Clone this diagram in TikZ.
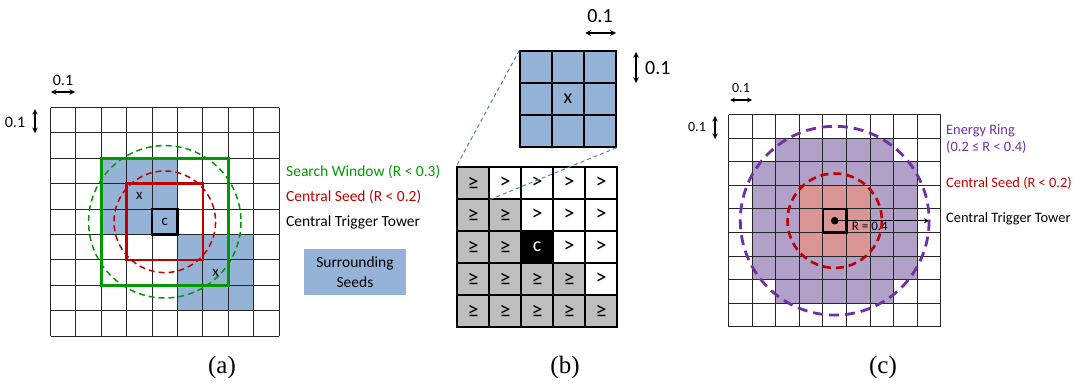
\documentclass[tikz,border=0pt]{standalone}
\usepackage{fontspec}
\setmainfont{Carlito}
\newfontfamily\capfont{Liberation Serif}
\usetikzlibrary{arrows,positioning}

\definecolor{seedblue}{RGB}{149,179,215}
\definecolor{lowgray}{RGB}{191,191,191}
\definecolor{searchgreen}{RGB}{0,153,0}
\definecolor{seedred}{RGB}{192,0,0}
\definecolor{ringpurple}{RGB}{112,48,160}
\definecolor{ringfill}{RGB}{177,160,199}
\definecolor{corefill}{RGB}{218,150,148}
\definecolor{zoomblue}{RGB}{79,129,189}

\begin{document}
\begin{tikzpicture}[
    x=1pt, y=-1pt,
    gridline/.style={line width=1.1pt, black!85},
    tower/.style={rectangle, draw, line width=2.6pt, inner sep=0pt, font=\fontsize{15}{18}\selectfont},
    seedx/.style={inner sep=0pt, font=\fontsize{15}{18}\selectfont},
    bcell/.style={rectangle, draw, line width=1.3pt, minimum size=32pt, inner sep=0pt, font=\fontsize{22}{24}\selectfont},
    lbl/.style={anchor=west, inner sep=0pt, font=\fontsize{15.5}{18}\selectfont},
    lblc/.style={anchor=west, inner sep=0pt, font=\fontsize{14.4}{17}\selectfont},
    dimlbl/.style={inner sep=0pt, font=\fontsize{#1}{18}\selectfont},
    dimarrow/.style={<->, >=stealth, line width=1.4pt},
    zoomline/.style={zoomblue, line width=1pt, dash pattern=on 4pt off 3pt},
    caplbl/.style={inner sep=0pt, font=\capfont\fontsize{25}{28}\selectfont}
]
    \useasboundingbox (0,0) rectangle (1081,383);

    % (a) search window
    \begin{scope}[shift={(50.5pt,-107.5pt)}, x=25.4pt, y=-25.4pt]
        \fill[seedblue] (2,2) rectangle (5,5) (5,5) rectangle (8,8);
        \foreach \i in {0,...,9}
            \draw[gridline] (\i,0) -- (\i,9) (0,\i) -- (9,\i);
        \draw[searchgreen, line width=3.2pt] (2,2) rectangle (7,7);
        \draw[seedred, line width=2.8pt] (3,3) rectangle (6,6);
        \node[tower, minimum size=25.4pt] (ctta) at (4.5,4.5) {c};
        \draw[searchgreen, line width=1.5pt, dash pattern=on 6pt off 4pt] (ctta.center) circle (3);
        \draw[seedred, line width=1.5pt, dash pattern=on 6pt off 4pt] (ctta.center) circle (2);
        \node[seedx] (xa1) at (3.5,3.5) {x};
        \node[seedx] (xa2) at (6.5,6.5) {x};
    \end{scope}

    \coordinate (ah1) at (51,92);
    \coordinate (ah2) at (75,92);
    \draw[dimarrow] (ah1) -- (ah2);
    \node[dimlbl=16] (ahl) at (63,80) {0.1};
    \coordinate (av1) at (35,109);
    \coordinate (av2) at (35,133);
    \draw[dimarrow] (av1) -- (av2);
    \node[dimlbl=16] (avl) at (15,122) {0.1};

    \node[lbl, text=searchgreen] (swlbl) at (286,172) {Search Window (R < 0.3)};
    \node[lbl, text=seedred, below=25pt of swlbl.west, anchor=west] (csalbl) {Central Seed (R < 0.2)};
    \node[lbl, below=25pt of csalbl.west, anchor=west] (ctalbl) {Central Trigger Tower};
    \node[fill=seedblue, minimum width=102pt, minimum height=46pt, align=center,
          font=\fontsize{15.5}{20}\selectfont] (ssbox) at (355,272) {Surrounding\\Seeds};

    \node[caplbl] (capa) at (222,367) {(a)};

    % (b) local maximum
    \begin{scope}[shift={(457pt,-167pt)}, x=32pt, y=-32pt]
        \foreach \r in {0,...,4}
            \foreach \c in {0,...,4} {
                \ifnum\c>\r
                    \node[bcell] (b-\r-\c) at (\c+0.5,\r+0.5) {>};
                \else
                    \node[bcell, fill=lowgray] (b-\r-\c) at (\c+0.5,\r+0.5) {≥};
                \fi
            }
        \node[bcell, fill=black, text=white, font=\fontsize{20}{22}\selectfont] (b-2-2) at (2.5,2.5) {c};
    \end{scope}

    \begin{scope}[shift={(520pt,-51pt)}, x=32pt, y=-32pt]
        \foreach \r in {0,1,2}
            \foreach \c in {0,1,2}
                \node[bcell, fill=seedblue] (z-\r-\c) at (\c+0.5,\r+0.5) {};
        \node[seedx, font=\fontsize{20}{22}\selectfont] (zx) at (z-1-1) {x};
    \end{scope}

    \draw[zoomline] (z-0-0.north west) -- (b-0-0.north west);
    \draw[zoomline] (z-2-2.south east) -- (b-0-0.south east);

    \coordinate (bh1) at (585,33);
    \coordinate (bh2) at (616,33);
    \draw[dimarrow, line width=1.6pt] (bh1) -- (bh2);
    \node[dimlbl=20] (bhl) at (600,16) {0.1};
    \coordinate (bv1) at (636,52);
    \coordinate (bv2) at (636,83);
    \draw[dimarrow, line width=1.6pt] (bv1) -- (bv2);
    \node[dimlbl=20, anchor=west] (bvl) at (645,68) {0.1};

    \node[caplbl] (capb) at (565,367) {(b)};

    % (c) energy ring
    \begin{scope}[shift={(728.5pt,-114.5pt)}, x=23.6pt, y=-23.6pt]
        \fill[ringfill] (2,1) rectangle (7,8) (1,2) rectangle (8,7);
        \fill[corefill, rounded corners=3pt] (3,3) rectangle (6,6);
        \foreach \i in {0,...,9}
            \draw[gridline, line width=1pt] (\i,0) -- (\i,9) (0,\i) -- (9,\i);
        \node[tower, minimum size=23.6pt] (cttc) at (4.5,4.5) {};
        \fill (cttc.center) circle (3.8pt);
        \coordinate (rend) at (8.5,4.5);
        \draw[->, >=stealth, line width=1.3pt] (cttc.center) -- (rend);
        \node[anchor=north west, inner sep=0pt, font=\fontsize{13}{15}\selectfont] (rlbl) at (5.22,4.55) {R = 0.4};
        \draw[seedred, line width=2.6pt, dash pattern=on 8pt off 5pt] (cttc.center) circle (2);
        \draw[ringpurple, line width=2.8pt, dash pattern=on 10pt off 6pt] (cttc.center) circle (4);
    \end{scope}

    \coordinate (ch1) at (730,100);
    \coordinate (ch2) at (752,100);
    \draw[dimarrow, line width=1.2pt] (ch1) -- (ch2);
    \node[dimlbl=14] (chl) at (741,88) {0.1};
    \coordinate (cv1) at (715,116);
    \coordinate (cv2) at (715,139);
    \draw[dimarrow, line width=1.4pt] (cv1) -- (cv2);
    \node[dimlbl=14] (cvl) at (697,127) {0.1};

    \node[lblc, text=ringpurple] (erlbl) at (946,131) {Energy Ring};
    \node[lblc, text=ringpurple, below=16pt of erlbl.west, anchor=west] (errlbl) {(0.2 ≤ R < 0.4)};
    \node[lblc, text=seedred] (csclbl) at (946,183) {Central Seed (R < 0.2)};
    \node[lblc, below=36pt of csclbl.west, anchor=west] (ctclbl) {Central Trigger Tower};

    \node[caplbl] (capc) at (883,367) {(c)};
\end{tikzpicture}
\end{document}
